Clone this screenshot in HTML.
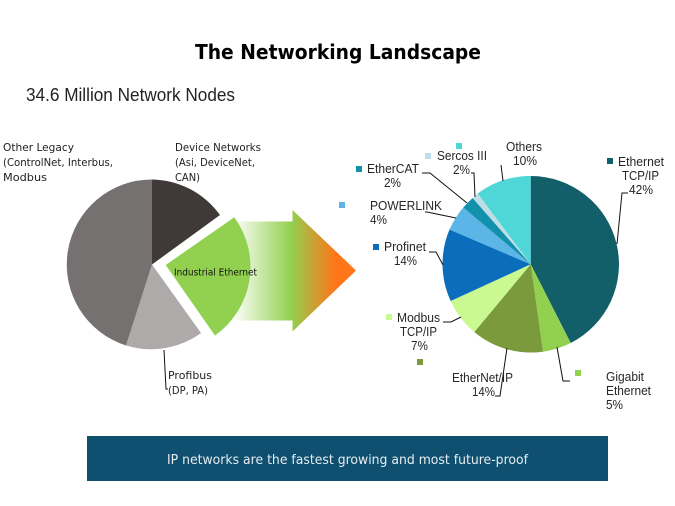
<!DOCTYPE html>
<html>
<head>
<meta charset="utf-8">
<style>
html,body{margin:0;padding:0;background:#fff;width:675px;height:506px;overflow:hidden}
svg{display:block}
.c{font-family:"Liberation Sans",sans-serif;font-size:12.5px;fill:#262626}
.l{font-family:"DejaVu Sans",sans-serif;font-size:11px;fill:#222}
.ln{fill:none;stroke:#111;stroke-width:1}
</style>
</head>
<body>
<svg width="675" height="506" viewBox="0 0 675 506" xmlns="http://www.w3.org/2000/svg">
<defs>
<linearGradient id="g" gradientUnits="userSpaceOnUse" x1="232" y1="0" x2="350" y2="0">
<stop offset="0" stop-color="#ffffff"/>
<stop offset="0.5" stop-color="#92d050"/>
<stop offset="0.88" stop-color="#ff7518"/>
<stop offset="1" stop-color="#ff7518"/>
</linearGradient>
</defs>

<text x="195" y="59" font-family="'DejaVu Sans',sans-serif" font-weight="bold" font-size="20" fill="#000" textLength="286" lengthAdjust="spacingAndGlyphs">The Networking Landscape</text>
<text x="26" y="101" font-family="'Liberation Sans',sans-serif" font-size="18" fill="#222" textLength="209" lengthAdjust="spacingAndGlyphs">34.6 Million Network Nodes</text>

<!-- Left pie -->
<path d="M152 264.5V179.5A85 85 0 0 1 220 215Z" fill="#3f3a38"/>
<path d="M152 264.5L201 333A85 85 0 0 1 126 345.5Z" fill="#aeaaaa"/>
<path d="M152 264.5L126 345.5A85 85 0 0 1 152 179.5Z" fill="#767171"/>

<!-- Arrow -->
<path d="M232 221.5H292.5V210L356 270.5L292.5 331.5V320.5H232Z" fill="url(#g)"/>
<!-- Exploded slice -->
<path d="M165.7 265L234.3 217.3A84 84 0 0 1 215 335.5Z" fill="#92d050"/>
<text x="174" y="275.5" font-family="'DejaVu Sans',sans-serif" font-size="9.5" fill="#111" textLength="83" lengthAdjust="spacingAndGlyphs">Industrial Ethernet</text>

<!-- Left labels -->
<text class="l" x="3" y="151" textLength="71" lengthAdjust="spacingAndGlyphs">Other Legacy</text>
<text class="l" x="3" y="166" textLength="110" lengthAdjust="spacingAndGlyphs">(ControlNet, Interbus,</text>
<text class="l" x="3" y="181" textLength="44" lengthAdjust="spacingAndGlyphs">Modbus</text>
<text class="l" x="175" y="151" textLength="86" lengthAdjust="spacingAndGlyphs">Device Networks</text>
<text class="l" x="175" y="166" textLength="80" lengthAdjust="spacingAndGlyphs">(Asi, DeviceNet,</text>
<text class="l" x="175" y="181" textLength="25" lengthAdjust="spacingAndGlyphs">CAN)</text>
<text class="l" x="168" y="379" textLength="44" lengthAdjust="spacingAndGlyphs">Profibus</text>
<text class="l" x="168" y="394" textLength="40" lengthAdjust="spacingAndGlyphs">(DP, PA)</text>
<path class="ln" d="M164 350L166 389H168"/>

<!-- Right pie -->
<path d="M530.7 264.3V176A88.3 88.3 0 0 1 570.7 343Z" fill="#125f6a"/>
<path d="M530.7 264.3L570.7 343A88.3 88.3 0 0 1 543 351.7Z" fill="#92d050"/>
<path d="M530.7 264.3L543 351.7A88.3 88.3 0 0 1 474.3 332Z" fill="#7a9a3c"/>
<path d="M530.7 264.3L474.3 332A88.3 88.3 0 0 1 450.7 301Z" fill="#c9f990"/>
<path d="M530.7 264.3L450.7 301A88.3 88.3 0 0 1 449.5 229.5Z" fill="#0a6ebd"/>
<path d="M530.7 264.3L449.5 229.5A88.3 88.3 0 0 1 463.3 207.5Z" fill="#5bb5e6"/>
<path d="M530.7 264.3L463.3 207.5A88.3 88.3 0 0 1 472.7 198Z" fill="#1291ac"/>
<path d="M530.7 264.3L472.7 198A88.3 88.3 0 0 1 477.7 193.5Z" fill="#bfdde6"/>
<path d="M530.7 264.3L477.7 193.5A88.3 88.3 0 0 1 530.7 176Z" fill="#4fd6d6"/>

<!-- Leader lines -->
<path class="ln" d="M617 244L622 193H628"/>
<path class="ln" d="M503 181L501 165"/>
<path class="ln" d="M475 197L474 173H471"/>
<path class="ln" d="M467 203L430 173H422"/>
<path class="ln" d="M456 218L427 212H425"/>
<path class="ln" d="M443 265L436 252H429"/>
<path class="ln" d="M461 317L451 322H443"/>
<path class="ln" d="M507 348L500 396H495"/>
<path class="ln" d="M557 347L563 381H570"/>

<!-- Markers -->
<rect x="456" y="143" width="6" height="6" fill="#4fd6d6"/>
<rect x="425" y="153" width="6" height="6" fill="#bfdde6"/>
<rect x="356" y="166" width="6" height="6" fill="#1291ac"/>
<rect x="339" y="202" width="6" height="6" fill="#5bb5e6"/>
<rect x="373" y="244" width="6" height="6" fill="#0a6ebd"/>
<rect x="607" y="158" width="6" height="6" fill="#125f6a"/>
<rect x="386" y="314" width="6" height="6" fill="#c9f990"/>
<rect x="417" y="359" width="6" height="6" fill="#7a9a3c"/>
<rect x="575" y="370" width="6" height="6" fill="#92d050"/>

<!-- Right labels -->
<text class="c" x="618" y="166" textLength="46" lengthAdjust="spacingAndGlyphs">Ethernet</text>
<text class="c" x="622" y="180" textLength="37" lengthAdjust="spacingAndGlyphs">TCP/IP</text>
<text class="c" x="629" y="194" textLength="24" lengthAdjust="spacingAndGlyphs">42%</text>
<text class="c" x="506" y="151" textLength="36" lengthAdjust="spacingAndGlyphs">Others</text>
<text class="c" x="513" y="165" textLength="24" lengthAdjust="spacingAndGlyphs">10%</text>
<text class="c" x="437" y="160" textLength="50" lengthAdjust="spacingAndGlyphs">Sercos III</text>
<text class="c" x="453" y="174" textLength="17" lengthAdjust="spacingAndGlyphs">2%</text>
<text class="c" x="367" y="173" textLength="52" lengthAdjust="spacingAndGlyphs">EtherCAT</text>
<text class="c" x="384" y="187" textLength="17" lengthAdjust="spacingAndGlyphs">2%</text>
<text class="c" x="370" y="210" textLength="72" lengthAdjust="spacingAndGlyphs">POWERLINK</text>
<text class="c" x="370" y="224" textLength="17" lengthAdjust="spacingAndGlyphs">4%</text>
<text class="c" x="384" y="251" textLength="42" lengthAdjust="spacingAndGlyphs">Profinet</text>
<text class="c" x="394" y="265" textLength="23" lengthAdjust="spacingAndGlyphs">14%</text>
<text class="c" x="397" y="322" textLength="43" lengthAdjust="spacingAndGlyphs">Modbus</text>
<text class="c" x="400" y="336" textLength="37" lengthAdjust="spacingAndGlyphs">TCP/IP</text>
<text class="c" x="411" y="350" textLength="17" lengthAdjust="spacingAndGlyphs">7%</text>
<text class="c" x="452" y="382" textLength="61" lengthAdjust="spacingAndGlyphs">EtherNet/IP</text>
<text class="c" x="472" y="396" textLength="23" lengthAdjust="spacingAndGlyphs">14%</text>
<text class="c" x="606" y="381" textLength="38" lengthAdjust="spacingAndGlyphs">Gigabit</text>
<text class="c" x="606" y="395" textLength="45" lengthAdjust="spacingAndGlyphs">Ethernet</text>
<text class="c" x="606" y="409" textLength="17" lengthAdjust="spacingAndGlyphs">5%</text>

<!-- Banner -->
<rect x="87" y="436" width="521" height="45" fill="#0f5070"/>
<text x="167" y="464" font-family="'DejaVu Sans',sans-serif" font-size="13.5" fill="#e6edf1" textLength="361" lengthAdjust="spacingAndGlyphs">IP networks are the fastest growing and most future-proof</text>
</svg>
</body>
</html>
